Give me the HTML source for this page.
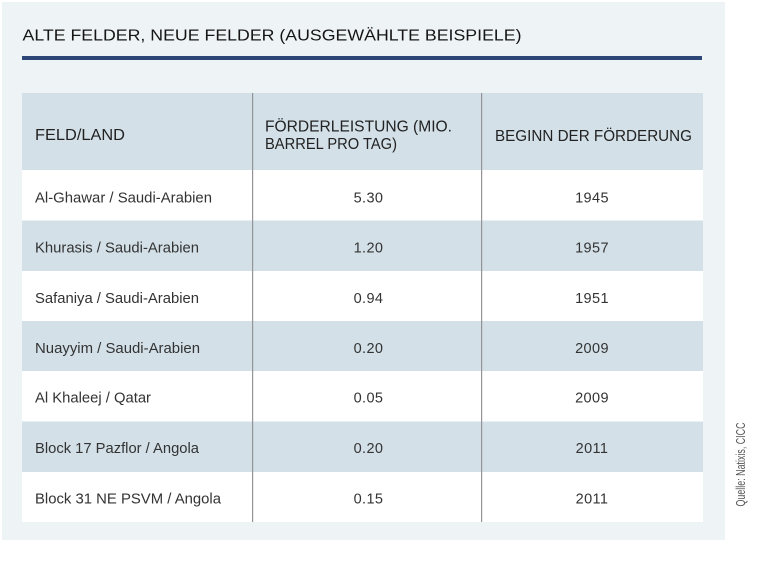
<!DOCTYPE html>
<html><head><meta charset="utf-8"><style>
html,body{margin:0;padding:0;background:#fff;}
svg{display:block;}
</style></head><body>
<svg width="764" height="562" viewBox="0 0 764 562" xmlns="http://www.w3.org/2000/svg" font-family="Liberation Sans, Arial, sans-serif">
<rect x="0" y="0" width="764" height="562" fill="#ffffff"/>
<rect x="2" y="2" width="723" height="538" fill="#eef3f6"/>
<text x="22.5" y="40.6" font-size="16" fill="#151515" textLength="499" lengthAdjust="spacingAndGlyphs">ALTE FELDER, NEUE FELDER (AUSGEWÄHLTE BEISPIELE)</text>
<rect x="22" y="56" width="680" height="4" fill="#2c4677"/>
<!-- table -->
<rect x="22" y="93" width="681" height="77" fill="#d3e0e8"/>
<rect x="22" y="170" width="681" height="50.5" fill="#ffffff"/>
<rect x="22" y="220.5" width="681" height="50.5" fill="#d3e0e8"/>
<rect x="22" y="271" width="681" height="50" fill="#ffffff"/>
<rect x="22" y="321" width="681" height="50" fill="#d3e0e8"/>
<rect x="22" y="371" width="681" height="50.5" fill="#ffffff"/>
<rect x="22" y="421.5" width="681" height="50.5" fill="#d3e0e8"/>
<rect x="22" y="472" width="681" height="50" fill="#ffffff"/>
<rect x="252" y="93" width="1.2" height="429" fill="#959595"/>
<rect x="481" y="93" width="1.2" height="429" fill="#959595"/>
<g fill="#222" font-size="15.5">
<text x="35" y="140" textLength="90" lengthAdjust="spacingAndGlyphs">FELD/LAND</text>
<text x="265" y="131.7" textLength="187" lengthAdjust="spacingAndGlyphs">FÖRDERLEISTUNG (MIO.</text>
<text x="265" y="149" textLength="132" lengthAdjust="spacingAndGlyphs">BARREL PRO TAG)</text>
<text x="495" y="141" textLength="197" lengthAdjust="spacingAndGlyphs">BEGINN DER FÖRDERUNG</text>
</g>
<g fill="#333" font-size="14.5">
<text x="35" y="202.3" textLength="177" lengthAdjust="spacingAndGlyphs">Al-Ghawar / Saudi-Arabien</text>
<text x="35" y="252.5" textLength="164" lengthAdjust="spacingAndGlyphs">Khurasis / Saudi-Arabien</text>
<text x="35" y="302.8" textLength="164" lengthAdjust="spacingAndGlyphs">Safaniya / Saudi-Arabien</text>
<text x="35" y="353" textLength="165" lengthAdjust="spacingAndGlyphs">Nuayyim / Saudi-Arabien</text>
<text x="35" y="402.3" textLength="116" lengthAdjust="spacingAndGlyphs">Al Khaleej / Qatar</text>
<text x="35" y="453" textLength="164" lengthAdjust="spacingAndGlyphs">Block 17 Pazflor / Angola</text>
<text x="35" y="503.3" textLength="186" lengthAdjust="spacingAndGlyphs">Block 31 NE PSVM / Angola</text>
</g>
<g fill="#333" font-size="14.5" text-anchor="middle" letter-spacing="0.4">
<text x="368.5" y="202.3">5.30</text>
<text x="368.5" y="252.5">1.20</text>
<text x="368.5" y="302.8">0.94</text>
<text x="368.5" y="353">0.20</text>
<text x="368.5" y="402.3">0.05</text>
<text x="368.5" y="453">0.20</text>
<text x="368.5" y="503.3">0.15</text>
<text x="592" y="202.3">1945</text>
<text x="592" y="252.5">1957</text>
<text x="592" y="302.8">1951</text>
<text x="592" y="353">2009</text>
<text x="592" y="402.3">2009</text>
<text x="592" y="453">2011</text>
<text x="592" y="503.3">2011</text>
</g>
<text transform="translate(745,506.5) rotate(-90)" font-size="13" fill="#555" textLength="84" lengthAdjust="spacingAndGlyphs">Quelle: Natixis, CICC</text>
</svg>
</body></html>
